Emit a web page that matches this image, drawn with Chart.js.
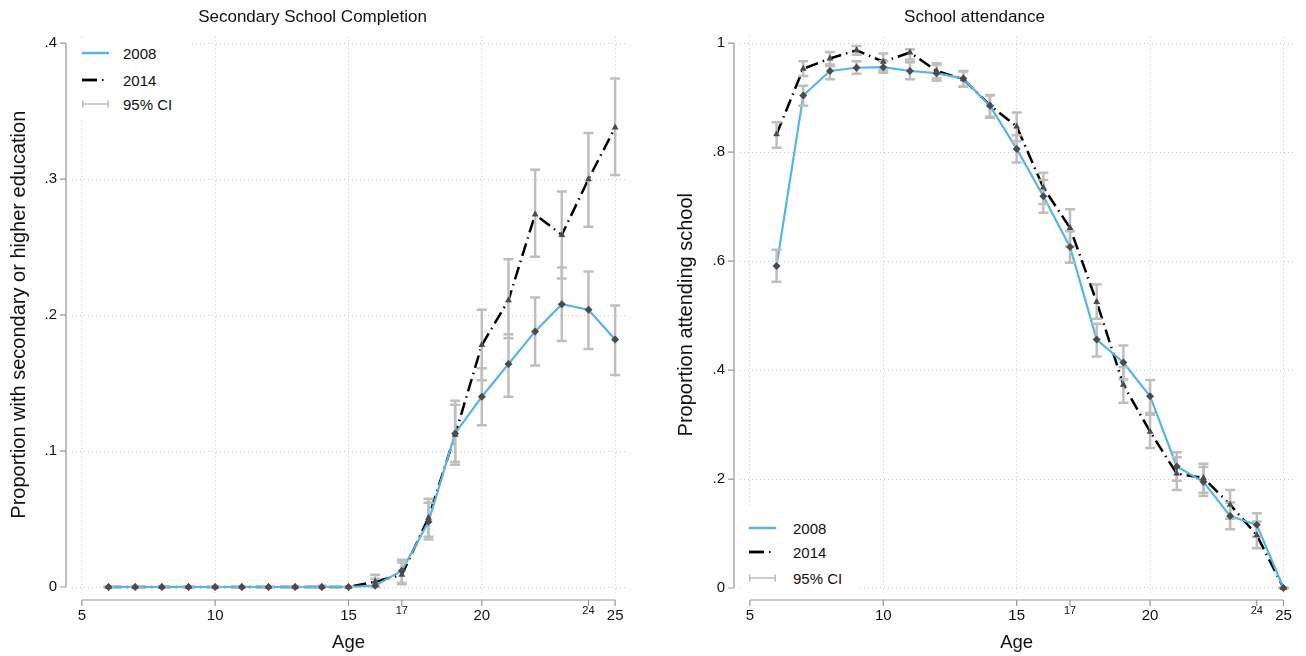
<!DOCTYPE html>
<html>
<head>
<meta charset="utf-8">
<title>Schooling by age, 2008 and 2014</title>
<script src="https://cdn.jsdelivr.net/npm/chart.js@4.4.1/dist/chart.umd.min.js"></script>
<style>
  body { margin: 0; background: #fff; font-family: "Liberation Sans", Arial, sans-serif; }
  #wrap { position: relative; width: 1306px; height: 656px; overflow: hidden; }
  .panel { position: absolute; top: 0; width: 653px; height: 656px; }
  .legend { position: absolute; background: #fff; font-size: 15px; color: #111; }
  .legend .row { position: absolute; left: 0; height: 20px; display: flex; align-items: center; white-space: nowrap; }
  .legend svg { display: block; }
</style>
</head>
<body>
<div id="wrap">
  <div class="panel" style="left:0"><canvas id="completion"></canvas></div>
  <div class="panel" style="left:653px"><canvas id="attendance"></canvas></div>
  <div class="legend" id="legend-left" style="left:72px;top:39px;width:118px;height:78px"></div>
  <div class="legend" id="legend-right" style="left:741px;top:505px;width:116px;height:86px"></div>
</div>
<script>
// ages on the x axis
const ages = [6, 7, 8, 9, 10, 11, 12, 13, 14, 15, 16, 17, 18, 19, 20, 21, 22, 23, 24, 25];

// secondary school completion
const completion2008   = [0, 0, 0, 0, 0, 0, 0, 0, 0, 0, 0.001, 0.012, 0.048, 0.113, 0.140, 0.164, 0.188, 0.208, 0.204, 0.182];
const completion2008Lo = [0, 0, 0, 0, 0, 0, 0, 0, 0, 0, 0.000, 0.003, 0.035, 0.092, 0.119, 0.140, 0.163, 0.181, 0.175, 0.156];
const completion2008Hi = [0, 0, 0, 0, 0, 0, 0, 0, 0.001, 0, 0.006, 0.020, 0.062, 0.134, 0.161, 0.186, 0.213, 0.235, 0.232, 0.207];
const completion2014   = [0, 0, 0, 0, 0, 0, 0, 0, 0, 0, 0.004, 0.009, 0.051, 0.112, 0.178, 0.211, 0.274, 0.259, 0.300, 0.338];
const completion2014Lo = [0, 0, 0, 0, 0, 0, 0, 0, 0, 0, 0.000, 0.002, 0.037, 0.090, 0.152, 0.183, 0.243, 0.227, 0.265, 0.303];
const completion2014Hi = [0, 0, 0, 0, 0, 0, 0, 0, 0, 0, 0.009, 0.018, 0.065, 0.137, 0.204, 0.241, 0.307, 0.291, 0.334, 0.374];

// school attendance
const attendance2008   = [0.591, 0.904, 0.949, 0.955, 0.956, 0.949, 0.945, 0.935, 0.885, 0.806, 0.719, 0.626, 0.456, 0.414, 0.352, 0.223, 0.195, 0.132, 0.116, 0];
const attendance2008Lo = [0.562, 0.885, 0.934, 0.944, 0.946, 0.934, 0.931, 0.920, 0.863, 0.781, 0.689, 0.597, 0.425, 0.383, 0.321, 0.197, 0.169, 0.108, 0.094, 0];
const attendance2008Hi = [0.621, 0.922, 0.961, 0.967, 0.967, 0.965, 0.960, 0.949, 0.904, 0.831, 0.749, 0.655, 0.485, 0.445, 0.382, 0.249, 0.222, 0.157, 0.137, 0];
const attendance2014   = [0.833, 0.953, 0.972, 0.987, 0.966, 0.983, 0.949, 0.934, 0.886, 0.847, 0.735, 0.661, 0.525, 0.373, 0.287, 0.210, 0.202, 0.153, 0.097, 0];
const attendance2014Lo = [0.808, 0.940, 0.958, 0.979, 0.950, 0.970, 0.935, 0.920, 0.865, 0.820, 0.705, 0.627, 0.494, 0.340, 0.257, 0.180, 0.175, 0.127, 0.073, 0];
const attendance2014Hi = [0.855, 0.967, 0.984, 0.995, 0.981, 0.989, 0.963, 0.948, 0.905, 0.873, 0.762, 0.695, 0.557, 0.405, 0.318, 0.240, 0.228, 0.180, 0.122, 0];

// ticks
const xTicks = [5, 10, 15, 17, 20, 24, 25];
const xSmallTicks = [17, 24];
const xTickLabels = ['5', '10', '15', '17', '20', '24', '25'];
const completionTicks = [0, 0.1, 0.2, 0.3, 0.4];
const completionTickLabels = ['0', '.1', '.2', '.3', '.4'];
const attendanceTicks = [0, 0.2, 0.4, 0.6, 0.8, 1];
const attendanceTickLabels = ['0', '.2', '.4', '.6', '.8', '1'];
const seriesNames = ['2008', '2014', '95% CI'];

const FONT = '"Liberation Sans", Arial, sans-serif';
const BLUE = 'rgb(86,180,233)';
const CI_GRAY = 'rgb(190,190,190)';
const MARKER = 'rgb(75,75,75)';
const AXIS_GRAY = 'rgb(150,150,150)';
const GRID_GRAY = 'rgb(200,200,200)';
const DASH_2014 = [13, 5, 1.5, 5];

function pts(ys) {
    return ages.map((a, i) => ({ x: a, y: ys[i] }));
}

function ciStems(lo, hi) {
    const out = [];
    ages.forEach((a, i) => {
        out.push({ x: a, y: lo[i] }, { x: a, y: hi[i] }, { x: a, y: null });
    });
    return out;
}

function ciCaps(lo, hi) {
    const out = [];
    ages.forEach((a, i) => {
        out.push({ x: a, y: lo[i] }, { x: a, y: hi[i] });
    });
    return out;
}

// axis lines drawn apart from the plot region, Stata style
const stataAxes = {
    id: 'stataAxes',
    afterDraw(chart) {
        const ctx = chart.ctx;
        const xs = chart.scales.x, ys = chart.scales.y;
        const area = chart.chartArea;
        const yTickVals = chart.options.yTickValues;
        ctx.save();
        ctx.strokeStyle = AXIS_GRAY;
        ctx.lineWidth = 1.2;
        // x axis
        const ax = area.bottom + 7;
        ctx.beginPath();
        ctx.moveTo(xs.getPixelForValue(xTicks[0]), ax);
        ctx.lineTo(xs.getPixelForValue(xTicks[xTicks.length - 1]), ax);
        xTicks.forEach(v => {
            const px = xs.getPixelForValue(v);
            ctx.moveTo(px, ax);
            ctx.lineTo(px, ax + 6);
        });
        // y axis
        const ay = area.left - 6;
        ctx.moveTo(ay, ys.getPixelForValue(yTickVals[0]));
        ctx.lineTo(ay, ys.getPixelForValue(yTickVals[yTickVals.length - 1]));
        yTickVals.forEach(v => {
            const py = ys.getPixelForValue(v);
            ctx.moveTo(ay, py);
            ctx.lineTo(ay - 6, py);
        });
        ctx.stroke();
        ctx.restore();
    }
};

function makeChart(id, cfg) {
    const datasets = [
        { data: pts(cfg.s2008), showLine: false, pointStyle: 'rectRot', pointRadius: 4,
          pointBackgroundColor: MARKER, pointBorderColor: MARKER, pointBorderWidth: 0 },
        { data: pts(cfg.s2014), showLine: false, pointStyle: 'triangle', pointRadius: 4,
          pointBackgroundColor: MARKER, pointBorderColor: MARKER, pointBorderWidth: 0 },
        { data: ciCaps(cfg.lo2008, cfg.hi2008), showLine: false, pointStyle: 'line', pointRadius: 5,
          pointBorderColor: CI_GRAY, pointBorderWidth: 2.5 },
        { data: ciCaps(cfg.lo2014, cfg.hi2014), showLine: false, pointStyle: 'line', pointRadius: 5,
          pointBorderColor: CI_GRAY, pointBorderWidth: 2.5 },
        { data: ciStems(cfg.lo2008, cfg.hi2008), borderColor: CI_GRAY, borderWidth: 2.5, pointRadius: 0, spanGaps: false },
        { data: ciStems(cfg.lo2014, cfg.hi2014), borderColor: CI_GRAY, borderWidth: 2.5, pointRadius: 0, spanGaps: false },
        { data: pts(cfg.s2008), borderColor: BLUE, borderWidth: 2.2, pointRadius: 0, tension: 0 },
        { data: pts(cfg.s2014), borderColor: '#000', borderWidth: 2.5, borderDash: DASH_2014, pointRadius: 0, tension: 0 }
    ];

    return new Chart(document.getElementById(id), {
        type: 'line',
        data: { datasets: datasets },
        plugins: [stataAxes],
        options: {
            responsive: false,
            animation: false,
            yTickValues: cfg.yTicks,
            layout: { padding: { left: 0, right: cfg.padRight, top: 0, bottom: 0 } },
            plugins: {
                legend: { display: false },
                tooltip: { enabled: false },
                title: {
                    display: true,
                    text: cfg.title,
                    color: '#111',
                    font: { family: FONT, size: 17, weight: 'normal' },
                    padding: { top: 7, bottom: 9 }
                }
            },
            scales: {
                x: {
                    type: 'linear',
                    min: 4.63,
                    max: 25.37,
                    afterBuildTicks: s => { s.ticks = xTicks.map(v => ({ value: v })); },
                    afterFit: s => { s.height = 63; },
                    border: { display: false, dash: [1, 3] },
                    grid: {
                        drawTicks: false,
                        lineWidth: 1,
                        color: c => (c.tick && xSmallTicks.includes(c.tick.value)) ? 'rgba(0,0,0,0)' : GRID_GRAY
                    },
                    ticks: {
                        autoSkip: false,
                        maxRotation: 0,
                        padding: 14,
                        color: '#111',
                        callback: (v, i) => xTickLabels[i],
                        font: c => (c.tick && xSmallTicks.includes(c.tick.value))
                            ? { family: FONT, size: 11, lineHeight: 0.7 } : { family: FONT, size: 15 }
                    },
                    title: {
                        display: true,
                        text: 'Age',
                        color: '#111',
                        font: { family: FONT, size: 18.5 },
                        padding: { top: 0, bottom: 2 }
                    }
                },
                y: {
                    type: 'linear',
                    min: cfg.yMin,
                    max: cfg.yMax,
                    afterBuildTicks: s => { s.ticks = cfg.yTicks.map(v => ({ value: v })); },
                    afterFit: s => { s.width = cfg.yWidth; },
                    border: { display: false, dash: [1, 3] },
                    grid: { drawTicks: false, lineWidth: 1, color: GRID_GRAY },
                    ticks: {
                        padding: 15,
                        color: '#111',
                        callback: (v, i) => cfg.yLabels[i],
                        font: { family: FONT, size: 15 }
                    },
                    title: {
                        display: true,
                        text: cfg.yTitle,
                        color: '#111',
                        font: { family: FONT, size: 20 },
                        padding: { top: cfg.yTitlePad, bottom: 0 }
                    }
                }
            }
        }
    });
}

const completionCanvas = document.getElementById('completion');
completionCanvas.width = 653; completionCanvas.height = 656;
const attendanceCanvas = document.getElementById('attendance');
attendanceCanvas.width = 653; attendanceCanvas.height = 656;

makeChart('completion', {
    title: 'Secondary School Completion',
    yTitle: 'Proportion with secondary or higher education',
    s2008: completion2008, lo2008: completion2008Lo, hi2008: completion2008Hi,
    s2014: completion2014, lo2014: completion2014Lo, hi2014: completion2014Hi,
    yTicks: completionTicks, yLabels: completionTickLabels,
    yMin: -0.0044, yMax: 0.405,
    yWidth: 72, yTitlePad: 7, padRight: 28
});

makeChart('attendance', {
    title: 'School attendance',
    yTitle: 'Proportion attending school',
    s2008: attendance2008, lo2008: attendance2008Lo, hi2008: attendance2008Hi,
    s2014: attendance2014, lo2014: attendance2014Lo, hi2014: attendance2014Hi,
    yTicks: attendanceTicks, yLabels: attendanceTickLabels,
    yMin: -0.0092, yMax: 1.0125,
    yWidth: 87, yTitlePad: 21, padRight: 10
});

// legends
function legendSymbol(kind) {
    if (kind === 0) {
        return '<svg width="28" height="10"><line x1="0" y1="5" x2="27" y2="5" stroke="' + BLUE + '" stroke-width="2.5"/></svg>';
    }
    if (kind === 1) {
        return '<svg width="28" height="10"><line x1="0" y1="5" x2="15" y2="5" stroke="#000" stroke-width="2.8"/>' +
               '<line x1="20" y1="5" x2="21.5" y2="5" stroke="#000" stroke-width="2"/></svg>';
    }
    return '<svg width="28" height="10"><line x1="0.5" y1="5" x2="26.5" y2="5" stroke="' + CI_GRAY + '" stroke-width="1.5"/>' +
           '<line x1="0.75" y1="1.5" x2="0.75" y2="8.5" stroke="' + CI_GRAY + '" stroke-width="1.5"/>' +
           '<line x1="26.25" y1="1.5" x2="26.25" y2="8.5" stroke="' + CI_GRAY + '" stroke-width="1.5"/></svg>';
}

function buildLegend(id, x0, rowTops, gap) {
    const el = document.getElementById(id);
    seriesNames.forEach((name, i) => {
        const row = document.createElement('div');
        row.className = 'row';
        row.style.left = x0 + 'px';
        row.style.top = rowTops[i] + 'px';
        row.innerHTML = legendSymbol(i) + '<span style="margin-left:' + gap + 'px">' + name + '</span>';
        el.appendChild(row);
    });
}

buildLegend('legend-left', 10, [4, 31, 55], 13);
buildLegend('legend-right', 8, [13, 37, 63], 16);
</script>
</body>
</html>
